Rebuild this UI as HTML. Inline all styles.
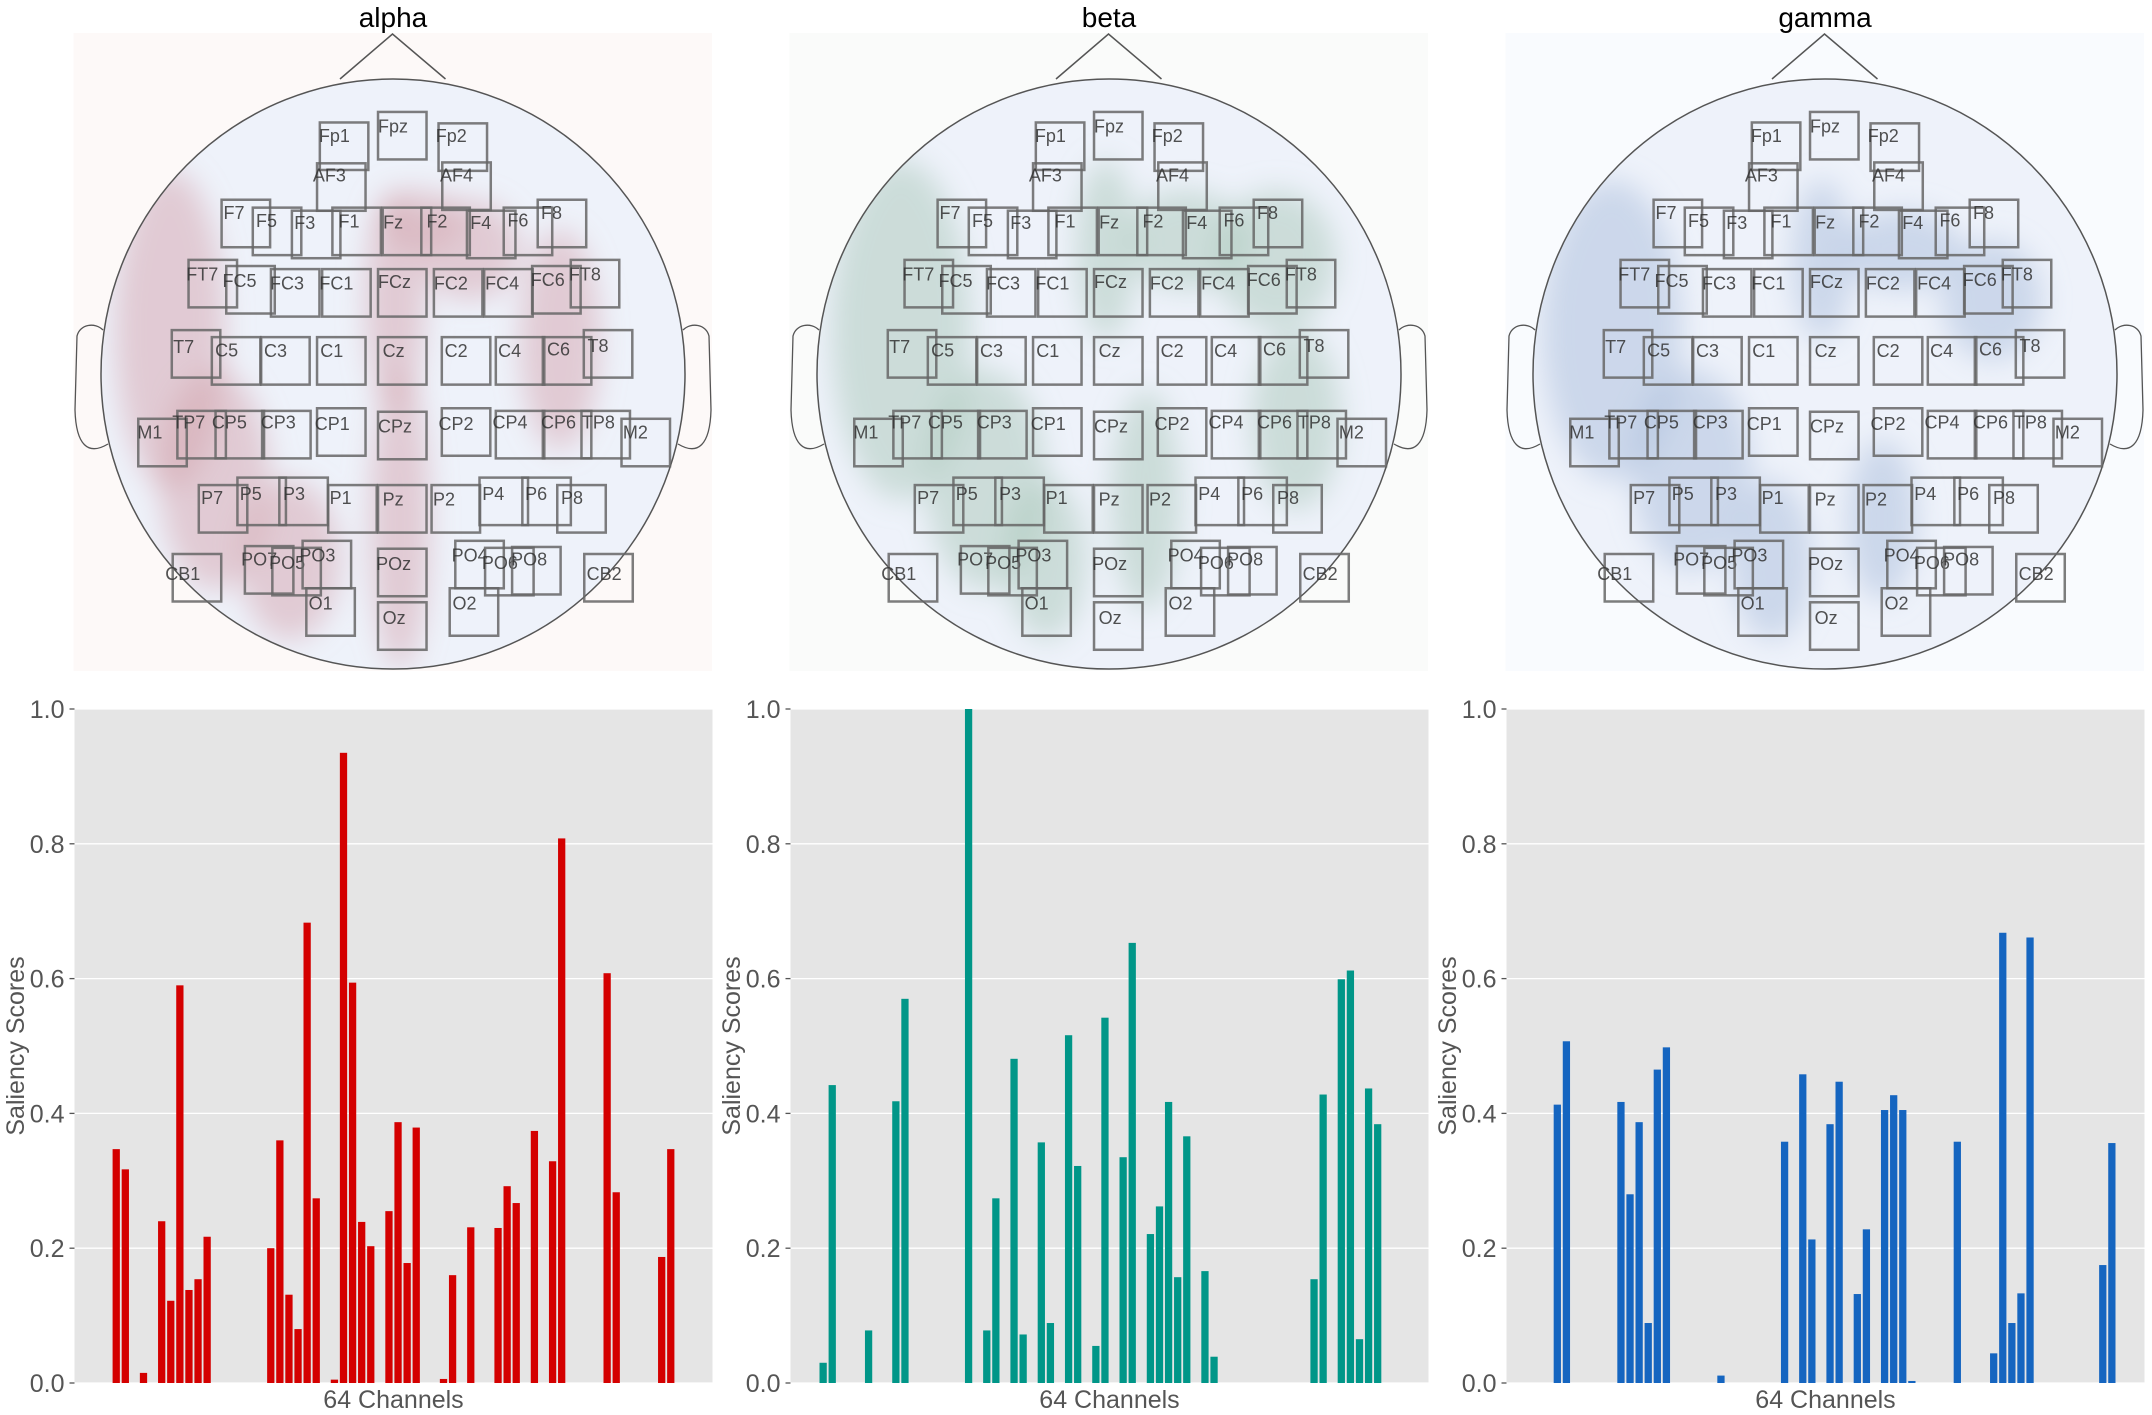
<!DOCTYPE html>
<html><head><meta charset="utf-8"><style>
html,body{margin:0;padding:0;background:#fff;}
svg{display:block;font-family:"Liberation Sans","DejaVu Sans",sans-serif;}
</style></head><body>
<svg id="fig" width="2152" height="1415" viewBox="0 0 2152 1415" xmlns="http://www.w3.org/2000/svg">
<defs>
<filter id="blur" x="-50%" y="-50%" width="200%" height="200%"><feGaussianBlur stdDeviation="14"/></filter>
<clipPath id="headclip"><ellipse cx="393" cy="374" rx="292" ry="295"/></clipPath>
</defs>
</svg>
<script>
const bands = ['alpha','beta','gamma'];
const alphaValues = [0,.347,.317,0,.015,0,.240,.122,.590,.138,.154,.217,0,0,0,0,0,0,.200,.360,.131,.080,.683,.274,0,.005,.935,.594,.239,.203,0,.255,.387,.178,.379,0,0,.006,.160,0,.231,0,0,.230,.292,.267,0,.374,0,.329,.808,0,0,0,0,.608,.283,0,0,0,0,.187,.347,0];
const betaValues = [.030,.442,0,0,0,.078,0,0,.418,.570,0,0,0,0,0,0,1.0,0,.078,.274,0,.481,.072,0,.357,.089,0,.516,.322,0,.055,.542,0,.335,.653,0,.221,.262,.417,.157,.366,0,.166,.039,0,0,0,0,0,0,0,0,0,0,.154,.428,0,.599,.612,.065,.437,.384,0,0];
const gammaValues = [0,0,.413,.507,0,0,0,0,0,.417,.280,.387,.089,.465,.498,0,0,0,0,0,.011,0,0,0,0,0,0,.358,0,.458,.213,0,.384,.447,0,.132,.228,0,.405,.427,.405,.003,0,0,0,0,.358,0,0,0,.044,.668,.089,.133,.661,0,0,0,0,0,0,0,.175,.356];
const yTicks = [0,0.2,0.4,0.6,0.8,1.0];
const yTickLabels = ['0.0','0.2','0.4','0.6','0.8','1.0'];
const electrodes = [
['Fp1',687,279,685,310],['Fpz',812,255,812,288],['Fp2',942,281,936,310],['AF3',681,372,672,400],['AF4',950,370,945,400],
['F7',476,455,480,485],['F5',543,473,550,503],['F3',627,480,632,508],['F1',714,473,727,505],['Fz',822,473,823,507],['F2',905,473,916,505],['F4',1003,480,1010,508],['F6',1082,473,1090,502],['F8',1155,455,1162,485],
['FT7',405,592,400,625],['FC5',486,606,478,640],['FC3',582,613,580,646],['FC1',692,613,686,646],['FCz',812,613,812,642],['FC2',932,613,932,646],['FC4',1040,613,1042,646],['FC6',1143,606,1140,638],['FT8',1226,592,1222,625],
['T7',369,752,372,790],['C5',455,768,462,798],['C3',561,768,567,800],['C1',681,768,688,800],['Cz',812,768,822,800],['C2',949,768,955,800],['C4',1065,768,1070,800],['C6',1166,768,1175,796],['T8',1254,752,1262,788],
['M1',297,954,295,985],['TP7',381,936,370,963],['CP5',463,936,455,963],['CP3',563,936,560,963],['CP1',681,930,676,966],['CPz',812,938,812,972],['CP2',949,930,942,966],['CP4',1065,936,1058,963],['CP6',1166,936,1162,963],['TP8',1249,936,1250,963],['M2',1335,954,1338,985],
['P7',427,1105,432,1135],['P5',510,1088,515,1125],['P3',600,1088,608,1125],['P1',705,1105,708,1135],['Pz',812,1105,822,1138],['P2',927,1105,930,1138],['P4',1030,1088,1036,1125],['P6',1122,1088,1128,1125],['P8',1197,1105,1205,1135],
['CB1',371,1262,355,1308],['PO7',526,1244,518,1275],['PO5',585,1248,578,1282],['PO3',650,1232,643,1265],['POz',812,1250,808,1285],['PO4',978,1232,970,1265],['PO6',1042,1248,1035,1282],['PO8',1100,1246,1098,1275],['CB2',1255,1262,1260,1308],
['O1',658,1340,663,1375],['Oz',812,1372,822,1408],['O2',966,1340,972,1375]];
const svg = document.getElementById('fig');
const NS = 'http://www.w3.org/2000/svg';
function mk(tag, attrs, parent){const e=document.createElementNS(NS,tag);for(const k in attrs)e.setAttribute(k,attrs[k]);(parent||svg).appendChild(e);return e;}
const offsets=[0,716,1432];
const barColors=['#d40000','#009688','#1565c0'];
const outerBg=['#fdf9f8','#fafbfa','#f9fbfe'];
const blobColor=['#d4a3ad','#a9c8b9','#a9bedc'];
const blobs=[
 [[170,330,55,160],[215,480,55,110],[290,560,50,80],[395,300,30,110],[400,520,30,150],[470,250,50,50],[560,340,40,110],[420,220,40,30]],
 [[185,330,70,170],[270,480,60,110],[390,250,30,90],[470,240,60,50],[560,260,60,70],[580,420,45,90],[430,500,35,110],[330,560,40,80]],
 [[180,330,70,150],[260,470,60,100],[390,260,30,80],[470,250,60,40],[560,300,50,60],[340,560,40,80],[450,520,35,80]]];
const allValues=[alphaValues,betaValues,gammaValues];
bands.forEach((band,bi)=>{
 const g=mk('g',{transform:`translate(${offsets[bi]},0)`});
 
 
 const tg=mk('g',{},g);
 
 
 mk('rect',{x:73.5,y:33,width:638.5,height:638,fill:outerBg[bi]},tg);
 mk('ellipse',{cx:393,cy:374,rx:292,ry:295,fill:'#eef2fa'},tg);
 const bg=mk('g',{'clip-path':'url(#headclip)',filter:'url(#blur)'},tg);
 blobs[bi].forEach(b=>mk('ellipse',{cx:b[0],cy:b[1],rx:b[2],ry:b[3],fill:blobColor[bi],opacity:0.5},bg));
 const t=mk('text',{x:393,y:27,'text-anchor':'middle','font-size':28,fill:'#000'},tg);t.textContent=band;
 
 
 mk('ellipse',{cx:393,cy:374,rx:292,ry:295,fill:'none',stroke:'#555','stroke-width':1.5},tg);
 mk('polyline',{points:'340,79 392.5,34 445.5,79',fill:'none',stroke:'#555','stroke-width':1.5},tg);
 mk('path',{d:'M103,330 C95,322 80,324 77,336 L75,410 C76,445 88,456 108,444',fill:'none',stroke:'#555','stroke-width':1.3},tg);
 mk('path',{d:'M683,330 C691,322 706,324 709,336 L711,410 C710,445 698,456 678,444',fill:'none',stroke:'#555','stroke-width':1.3},tg);
 electrodes.forEach(e=>{
  const eg=mk('g',{},tg);
  
  
  mk('rect',{x:e[1]/2.148,y:e[2]/2.278,width:48.5,height:47.5,fill:'none',stroke:'#666','stroke-width':2.5,opacity:0.85},eg);
  const lt=mk('text',{x:e[3]/2.148,y:e[4]/2.278+6,'font-size':18,fill:'#333',opacity:0.85},eg);lt.textContent=e[0];
 });
 const L=74.5,W=638,T=709,B=1383;
 const cg=mk('g',{},g);
 
 
 mk('rect',{x:L,y:T,width:W,height:B-T,fill:'#e5e5e5'},cg);
 const yScale=v=>B-v*(B-T);
 const n=allValues[bi].length;
 const xmin=-0.4-0.05*(n-0.2), xmax=n-0.6+0.05*(n-0.2);
 const xScale=i=>L+(i-xmin)/(xmax-xmin)*W;
 const bw=0.8*W/(xmax-xmin);
 yTicks.forEach((v,k)=>{
  mk('line',{x1:L,x2:L+W,y1:yScale(v),y2:yScale(v),stroke:'#fff','stroke-width':1.3},cg);
  mk('line',{x1:L-5,x2:L,y1:yScale(v),y2:yScale(v),stroke:'#555','stroke-width':1.3},cg);
  const tl=mk('text',{x:L-10,y:yScale(v)+9,'text-anchor':'end','font-size':25,fill:'#555'},cg);tl.textContent=yTickLabels[k];
  
  
 });
 allValues[bi].forEach((v,i)=>{
  if(v<=0)return;
  const r=mk('rect',{x:xScale(i)-bw/2,y:yScale(v),width:bw,height:B-yScale(v),fill:barColors[bi]},cg);
  
  
 });
 const yl=mk('text',{x:0,y:0,transform:`translate(24,${(T+B)/2}) rotate(-90)`,'text-anchor':'middle','font-size':25,fill:'#555'},cg);yl.textContent='Saliency Scores';
 
 
 const xl=mk('text',{x:L+W/2,y:1408,'text-anchor':'middle','font-size':25,fill:'#555'},cg);xl.textContent='64 Channels';
 
 
});
</script>
</body></html>
